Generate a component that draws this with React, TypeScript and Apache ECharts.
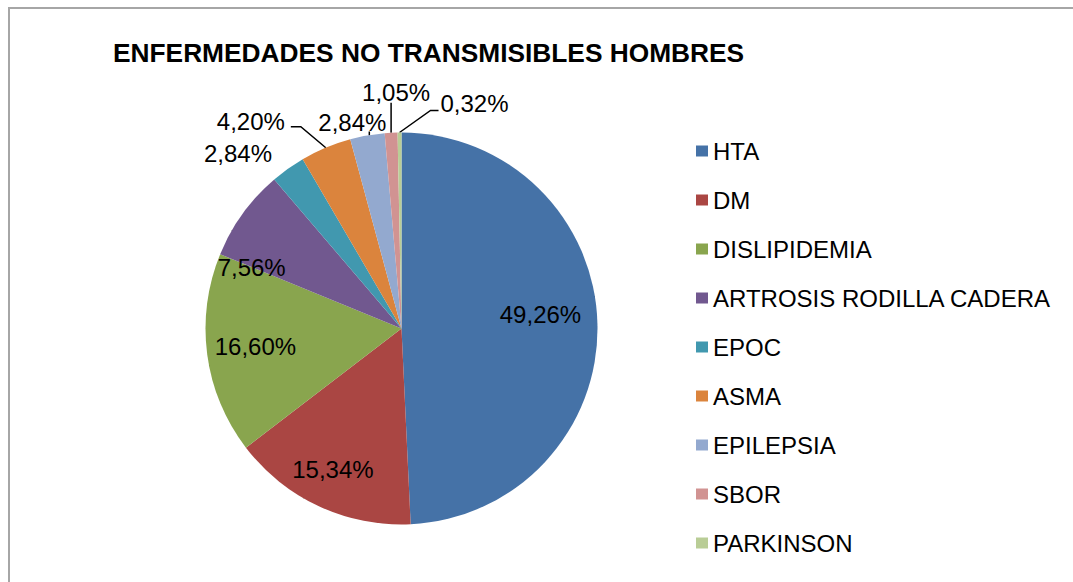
import React, { useEffect, useRef } from "react";
import * as echarts from "echarts";

const titleText = "ENFERMEDADES NO TRANSMISIBLES HOMBRES";
const categories = [
  "HTA",
  "DM",
  "DISLIPIDEMIA",
  "ARTROSIS RODILLA CADERA",
  "EPOC",
  "ASMA",
  "EPILEPSIA",
  "SBOR",
  "PARKINSON",
];
const values = [49.26, 15.34, 16.6, 7.56, 2.84, 4.2, 2.84, 1.05, 0.32];
const colors = [
  "#4572A7",
  "#AA4643",
  "#89A54E",
  "#71588F",
  "#4198AF",
  "#DB843D",
  "#93A9CF",
  "#D19392",
  "#B9CD96",
];

// label placement tweaks (layout only)
const insideShift: number[][] = [
  [38, -12],
  [-26, 49],
  [-46, 5],
  [-68, -2],
];
const outsideLayout: { label: number[]; line: number[][] | null }[] = [
  { label: [-50, -15], line: null },
  { label: [-75, -26], line: [[0, 0], [-25, -21], [-35, -21]] },
  { label: [-15, -13], line: [[2, 0], [2, -4], [2, -4]] },
  { label: [5, -40], line: [[0, 0], [0, -15], [0, -30]] },
  { label: [75, -29], line: [[0, 0], [31, -22], [39, -22]] },
];

const FONT = "'Liberation Sans', Arial, sans-serif";

export default function App() {
  const ref = useRef<HTMLDivElement>(null);
  useEffect(() => {
    if (!ref.current) return;
    const chart = echarts.init(ref.current, undefined, { renderer: "svg" });
    const data = categories.map((name, i) => {
      const item: any = { name, value: values[i], itemStyle: { color: colors[i] } };
      if (i < 4) {
        item.label = { position: "inside" };
      }
      if (i === 4) {
        item.labelLine = { lineStyle: { opacity: 0 } };
      }
      return item;
    });
    chart.setOption({
      animation: false,
      backgroundColor: "#ffffff",
      title: {
        text: titleText,
        left: 113,
        top: 40,
        padding: 0,
        textStyle: {
          fontFamily: FONT,
          fontWeight: "bold",
          fontSize: 26.3,
          color: "#000",
        },
      },
      legend: {
        orient: "vertical",
        left: 696,
        top: 139,
        padding: 0,
        itemGap: 25,
        itemWidth: 12,
        itemHeight: 11,
        icon: "rect",
        selectedMode: false,
        data: categories,
        textStyle: {
          fontFamily: FONT,
          fontSize: 24,
          lineHeight: 24,
          color: "#000",
        },
      },
      graphic: [
        {
          type: "rect",
          shape: { x: 9, y: 8, width: 1200, height: 700 },
          style: { fill: "none", stroke: "#a6a6a6", lineWidth: 2 },
          silent: true,
        },
      ],
      series: [
        {
          type: "pie",
          center: [401.5, 328.5],
          radius: 196,
          startAngle: 90,
          clockwise: true,
          avoidLabelOverlap: false,
          emphasis: { disabled: true },
          itemStyle: { borderWidth: 0 },
          label: {
            show: true,
            position: "outside",
            fontFamily: FONT,
            fontSize: 24,
            color: "#000",
            formatter: (p: any) => p.value.toFixed(2).replace(".", ",") + "%",
          },
          labelLine: {
            show: true,
            length: 10,
            length2: 10,
            lineStyle: { color: "#000", width: 1.5 },
          },
          labelLayout: (p: any) => {
            const i = p.dataIndex;
            const r = p.labelRect;
            const lx = r.x + r.width / 2;
            const ly = r.y + r.height / 2;
            if (i < 4) {
              const s = insideShift[i];
              return { x: lx + s[0], y: ly + s[1], align: "center", verticalAlign: "middle" };
            }
            const a = p.labelLinePoints ? p.labelLinePoints[0] : [lx, ly];
            const o = outsideLayout[i - 4];
            const res: any = {
              x: a[0] + o.label[0],
              y: a[1] + o.label[1],
              align: "center",
              verticalAlign: "middle",
            };
            res.labelLinePoints = o.line
              ? o.line.map((q) => [a[0] + q[0], a[1] + q[1]])
              : [a, a, a];
            return res;
          },
          data,
        },
      ],
    });
    return () => chart.dispose();
  }, []);
  return (
    <div
      ref={ref}
      style={{ position: "fixed", left: 0, top: 0, width: 1073, height: 582, background: "#fff" }}
    />
  );
}
